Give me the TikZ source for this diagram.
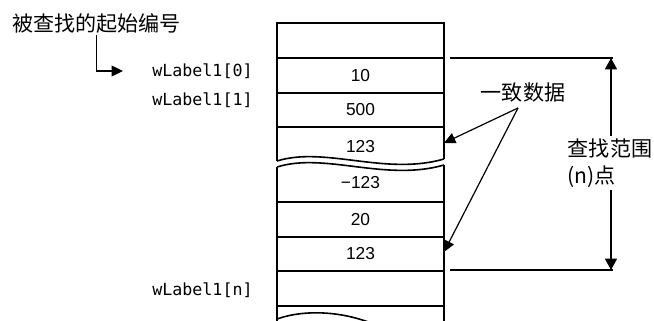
\documentclass[tikz,border=0pt]{standalone}
\usepackage{fontspec}
\setmainfont{Liberation Sans}
\newfontfamily\cjk{Noto Sans CJK SC}
\newfontfamily\wmono{DejaVu Sans Mono}
\usetikzlibrary{positioning, arrows.meta, calc}

\begin{document}
\begin{tikzpicture}[x=0.75pt, y=-0.75pt,
    cell/.style={font=\fontsize{13}{15}\selectfont, inner sep=0pt},
    wlab/.style={font=\wmono\fontsize{12.5}{14}\selectfont, anchor=west, inner sep=0pt},
    cjklab/.style={font=\cjk\fontsize{15.8}{20}\selectfont, inner sep=0.5pt},
    boxline/.style={line width=1.2pt},
    rangeline/.style={line width=1.7pt},
    pointer/.style={line width=0.9pt, -{Triangle[length=8.5pt, width=8pt]}},
    rangearrow/.style={line width=1pt, -{Triangle[length=8.5pt, width=9pt]}},
  ]
  \useasboundingbox (0,0) rectangle (654,321);
  \clip (0,0) rectangle (654,321);

  % Upper part of the array, cut by a wave
  \draw[boxline] (277,161) -- (277,23) -- (444,23) -- (444,159);
  \foreach \y in {58,93,127} \draw[boxline] (277,\y) -- (444,\y);
  \draw[boxline] (277,161) .. controls (325,146) and (385,176) .. (444,159);

  % Lower part of the array
  \draw[boxline] (277,167) .. controls (325,152) and (385,182) .. (444,165);
  \draw[boxline] (277,167) -- (277,330);
  \draw[boxline] (444,165) -- (444,330);
  \foreach \y in {202,237,271,306} \draw[boxline] (277,\y) -- (444,\y);
  \draw[boxline] (277,319) .. controls (305,309) and (345,311) .. (378,326);

  % Cell values
  \node[cell] (v10)   at (360.5,75.5) {10};
  \node[cell] (v500)  at (360.5,110)  {500};
  \node[cell] (v123a) at (360.5,147)  {123};
  \node[cell] (vm123) at (360.5,183)  {−123};
  \node[cell] (v20)   at (360.5,219.5) {20};
  \node[cell] (v123b) at (360.5,254)  {123};

  % Start index and device labels
  \node[cjklab] (start) at (96.5,24) {被查找的起始编号};
  \node[wlab] (idx0) at (152,71)  {wLabel1[0]};
  \node[wlab] (idx1) at (152,100) {wLabel1[1]};
  \node[wlab] (idxn) at (152,290) {wLabel1[n]};
  \coordinate (starttip) at (123,71);
  \draw[pointer, line width=1pt] (start.south) |- (starttip);

  % Matching data arrows
  \node[cjklab] (match) at (523,93) {一致数据};
  \coordinate (fork) at (518,108);
  \coordinate (hit1) at (444,143);
  \coordinate (hit2) at (444,252);
  \draw[pointer] (fork) -- (hit1);
  \draw[pointer] (fork) -- (hit2);

  % Search range
  \coordinate (rtopL) at (450,58);
  \coordinate (rtop)  at (611,58);
  \coordinate (rbotL) at (450,270);
  \coordinate (rbot)  at (611,270);
  \draw[rangeline] (rtopL) -- ([xshift=1.5]rtop);
  \draw[rangeline] (rbotL) -- ([xshift=1.5]rbot);
  \node[cjklab, align=left, inner sep=2pt] (range) at (610,163) {查找范围\\(n)点};
  \draw[rangearrow] (range.north -| rtop) -- (rtop);
  \draw[rangearrow] (range.south -| rbot) -- (rbot);

\end{tikzpicture}
\end{document}
